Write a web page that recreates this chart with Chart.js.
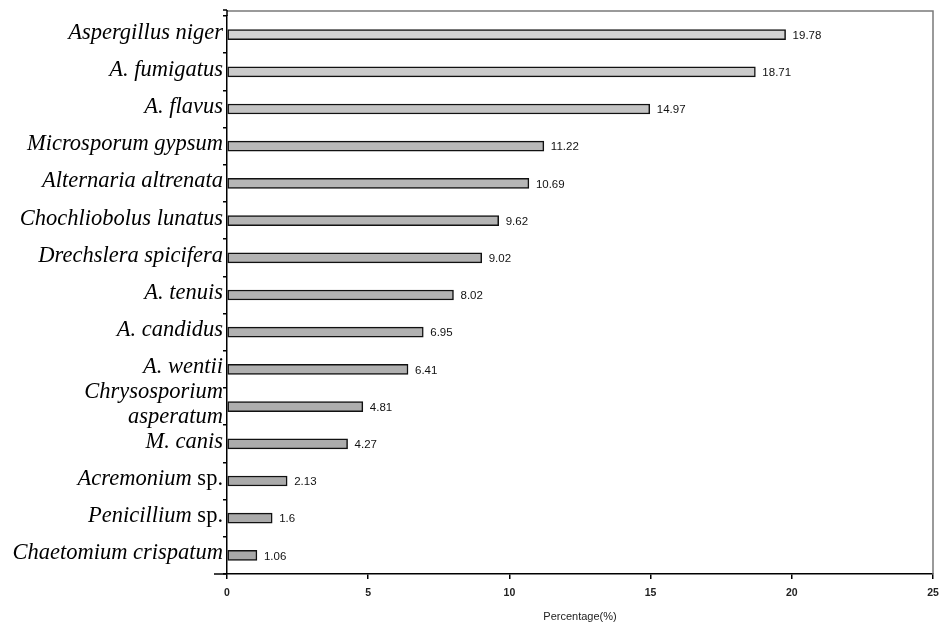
<!DOCTYPE html>
<html>
<head>
<meta charset="utf-8">
<script src="https://cdn.jsdelivr.net/npm/chart.js@4.4.1/dist/chart.umd.min.js"></script>
<style>
  html, body { margin: 0; padding: 0; background: #fff; }
  #wrap { width: 940px; height: 626px; }
</style>
</head>
<body>
<div id="wrap"><canvas id="c" width="940" height="626"></canvas></div>
<script>
const categories = [
  "Aspergillus niger",
  "A. fumigatus",
  "A. flavus",
  "Microsporum gypsum",
  "Alternaria altrenata",
  "Chochliobolus lunatus",
  "Drechslera spicifera",
  "A. tenuis",
  "A. candidus",
  "A. wentii",
  ["Chrysosporium", "asperatum"],
  "M. canis",
  "Acremonium sp.",
  "Penicillium sp.",
  "Chaetomium crispatum"
];
const percentages = [19.78, 18.71, 14.97, 11.22, 10.69, 9.62, 9.02, 8.02, 6.95, 6.41, 4.81, 4.27, 2.13, 1.6, 1.06];
const valueLabels = ["19.78", "18.71", "14.97", "11.22", "10.69", "9.62", "9.02", "8.02", "6.95", "6.41", "4.81", "4.27", "2.13", "1.6", "1.06"];
const xTicks = [0, 5, 10, 15, 20, 25];
const xTitle = "Percentage(%)";

const barColors = ["#d2d2d2", "#cbcbcb", "#c3c3c3", "#b9b9b9", "#b6b6b6", "#b4b4b4", "#b3b3b3",
  "#b2b2b2", "#b1b1b1", "#b0b0b0", "#aeaeae", "#acacac", "#aaaaaa", "#aaaaaa", "#a8a8a8"];

const serifFont = '"Liberation Serif", "Times New Roman", serif';

const decorPlugin = {
  id: 'decor',
  afterDraw(chart) {
    const ctx = chart.ctx;
    const ca = chart.chartArea;
    const yS = chart.scales.y;
    ctx.save();
    // frame (top and right)
    ctx.strokeStyle = '#7a7a7a';
    ctx.lineWidth = 1.5;
    ctx.beginPath();
    ctx.moveTo(ca.left, 11);
    ctx.lineTo(ca.right, 11);
    ctx.lineTo(ca.right, ca.bottom);
    ctx.stroke();
    // left axis extension to top
    ctx.strokeStyle = '#000';
    ctx.lineWidth = 1.5;
    ctx.beginPath();
    ctx.moveTo(ca.left, 10);
    ctx.lineTo(ca.left, ca.top);
    ctx.moveTo(ca.left - 4, 10);
    ctx.lineTo(ca.left, 10);
    ctx.stroke();
    // x-axis line extending left a bit
    ctx.beginPath();
    ctx.moveTo(ca.left - 13, ca.bottom);
    ctx.lineTo(ca.left, ca.bottom);
    ctx.stroke();

    // category labels
    ctx.fillStyle = '#000';
    ctx.textBaseline = 'middle';
    const rightX = ca.left - 4;
    const fs = 22.5;
    categories.forEach((lab, i) => {
      const y = yS.getPixelForValue(i);
      const lines = Array.isArray(lab) ? lab : [lab];
      const lh = 25;
      lines.forEach((ln, k) => {
        const ly = y + (k - (lines.length - 1) / 2) * lh - 2;
        ctx.textAlign = 'right';
        if (ln.endsWith(' sp.')) {
          ctx.font = `${fs}px ${serifFont}`;
          const sp = ' sp.';
          const w = ctx.measureText(sp).width;
          ctx.fillText(sp, rightX, ly);
          ctx.font = `italic ${fs}px ${serifFont}`;
          ctx.fillText(ln.slice(0, -4), rightX - w, ly);
        } else {
          ctx.font = `italic ${fs}px ${serifFont}`;
          ctx.fillText(ln, rightX, ly);
        }
      });
    });

    // value labels
    const meta = chart.getDatasetMeta(0);
    ctx.font = '11.5px "Liberation Sans", Arial, sans-serif';
    ctx.textAlign = 'left';
    ctx.fillStyle = '#111';
    meta.data.forEach((bar, i) => {
      ctx.fillText(valueLabels[i], bar.x + 7, bar.y + 1);
    });

    // axis title
    ctx.font = '11px "Liberation Sans", Arial, sans-serif';
    ctx.textAlign = 'center';
    ctx.fillStyle = '#222';
    ctx.fillText(xTitle, (ca.left + ca.right) / 2, 617);
    ctx.restore();
  }
};

new Chart(document.getElementById('c'), {
  type: 'bar',
  data: {
    labels: categories,
    datasets: [{
      data: percentages,
      backgroundColor: barColors,
      borderColor: '#111',
      borderWidth: 1.5,
      borderSkipped: false,
      barThickness: 10
    }]
  },
  options: {
    indexAxis: 'y',
    responsive: false,
    animation: false,
    devicePixelRatio: 1,
    layout: { padding: { left: 0, right: 7, top: 16, bottom: 0 } },
    plugins: {
      legend: { display: false },
      tooltip: { enabled: false },
      title: { display: false }
    },
    scales: {
      x: {
        type: 'linear',
        min: 0,
        max: 25,
        afterBuildTicks(scale) { scale.ticks = xTicks.map(v => ({ value: v })); },
        afterFit(scale) { scale.height = 52; scale.paddingRight = 0; scale.paddingLeft = 0; },
        grid: { drawOnChartArea: false, drawTicks: true, tickLength: 5, color: '#000', lineWidth: 1.5 },
        border: { display: true, color: '#000', width: 1.5 },
        ticks: {
          padding: 8,
          color: '#222',
          font: { family: '"Liberation Sans", Arial, sans-serif', size: 10.5, weight: 'bold' }
        }
      },
      y: {
        type: 'category',
        afterFit(scale) { scale.width = 227; },
        grid: { drawOnChartArea: false, drawTicks: true, tickLength: 4, color: '#000', lineWidth: 1.5, offset: true },
        border: { display: true, color: '#000', width: 1.5 },
        ticks: { display: false }
      }
    }
  },
  plugins: [decorPlugin]
});
</script>
</body>
</html>
